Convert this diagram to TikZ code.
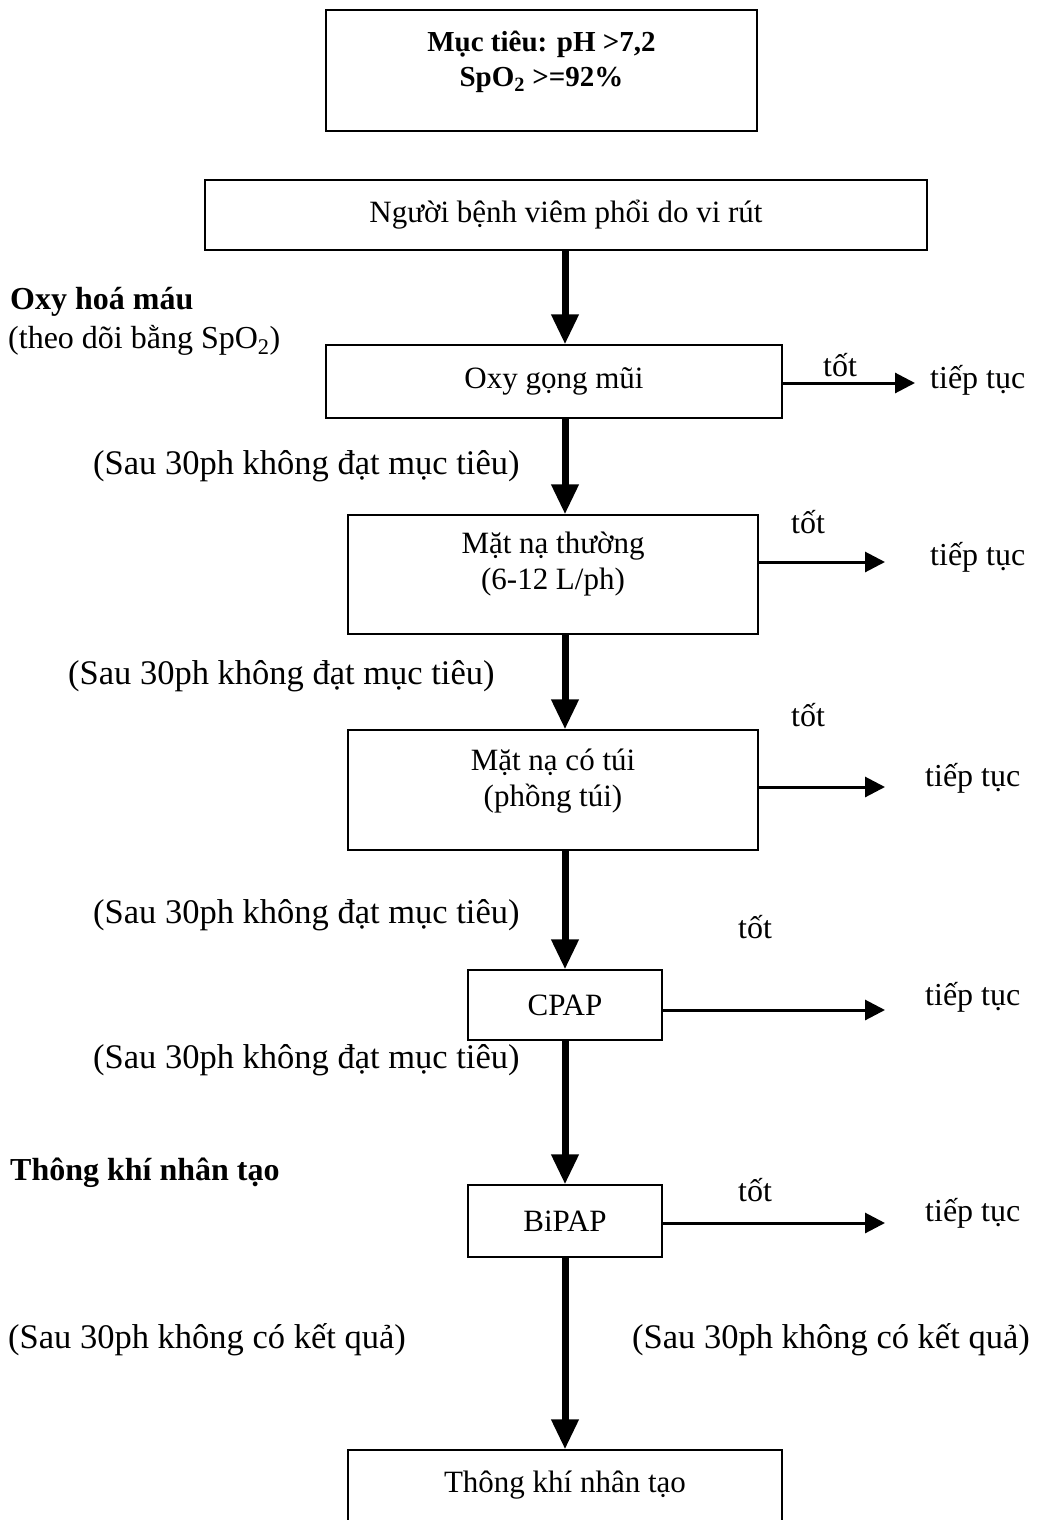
\documentclass[tikz,border=0pt]{standalone}
\usepackage{fontspec}
\setmainfont{Liberation Serif}
\usetikzlibrary{arrows.meta}
\newcommand{\lowpad}[1]{\rule[-#1]{0pt}{#1}}
\begin{document}
\begin{tikzpicture}[x=1pt,y=-1pt,
  box/.style={draw, line width=1.3pt, rectangle, inner sep=0pt, align=center,
    font=\fontsize{31}{36}\selectfont},
  lbl/.style={inner sep=0pt, font=\fontsize{34.5}{40}\selectfont},
  side/.style={inner sep=0pt, font=\fontsize{32}{38}\selectfont},
  bside/.style={inner sep=0pt, font=\fontsize{32}{38}\selectfont\bfseries},
  thickarrow/.style={line width=7pt, -{Triangle[length=30pt,width=26pt]}},
  thinarrow/.style={line width=3pt, -{Triangle[length=20pt,width=20pt]}}]
\useasboundingbox (0,0) rectangle (1037,1520);
\clip (0,0) rectangle (1037,1520);
\coordinate (ax) at (565,0);

\node[box, minimum width=431, minimum height=121,
  font=\fontsize{29}{35}\selectfont\bfseries] (b1) at (541.5,70.5)
  {Mục tiêu: pH >7,2\\SpO\textsubscript{2} >=92\%\lowpad{23pt}};
\node[box, minimum width=722, minimum height=70] (b2) at (566,215) {Người bệnh viêm phổi do vi rút};
\node[box, minimum width=456, minimum height=73] (b3) at (554,381.5) {Oxy gọng mũi};
\node[box, minimum width=410, minimum height=119] (b4) at (553,574.5) {Mặt nạ thường\\(6-12 L/ph)\lowpad{27pt}};
\node[box, minimum width=410, minimum height=120] (b5) at (553,790) {Mặt nạ có túi\\(phồng túi)\lowpad{25pt}};
\node[box, minimum width=194, minimum height=70] (b6) at (565,1005) {CPAP};
\node[box, minimum width=194, minimum height=72] (b7) at (565,1221) {BiPAP};
\node[box, minimum width=434, minimum height=90, text height=22pt, text depth=28pt] (b8) at (565,1495) {Thông khí nhân tạo};

% left labels
\node[bside, anchor=west] (l1) at (10,302) {Oxy hoá máu};
\node[side, anchor=west] (l2) at (8,340) {(theo dõi bằng SpO\textsubscript{2})};
\node[lbl, anchor=west] (s1) at (93,466) {(Sau 30ph không đạt mục tiêu)};
\node[lbl, anchor=west] (s2) at (68,676) {(Sau 30ph không đạt mục tiêu)};
\node[lbl, anchor=west] (s3) at (93,915) {(Sau 30ph không đạt mục tiêu)};
\node[lbl, anchor=west] (s4) at (93,1060) {(Sau 30ph không đạt mục tiêu)};
\node[bside, anchor=west] (l3) at (10,1173) {Thông khí nhân tạo};
\node[lbl, anchor=west] (k1) at (8,1340) {(Sau 30ph không có kết quả)};
\node[lbl, anchor=east] (k2) at (1030,1340) {(Sau 30ph không có kết quả)};

% tốt / tiếp tục
\node[side] (t1) at (840,365) {tốt};
\node[side] (t2) at (808,522) {tốt};
\node[side] (t3) at (808,715) {tốt};
\node[side] (t4) at (755,927) {tốt};
\node[side] (t5) at (755,1190) {tốt};
\node[side, anchor=west] (c1) at (930,380) {tiếp tục};
\node[side, anchor=west] (c2) at (930,557) {tiếp tục};
\node[side, anchor=west] (c3) at (925,778) {tiếp tục};
\node[side, anchor=west] (c4) at (925,997) {tiếp tục};
\node[side, anchor=west] (c5) at (925,1213) {tiếp tục};

\coordinate (e1) at (915,383);
\coordinate (e2) at (885,562);
\coordinate (e3) at (885,787);
\coordinate (e4) at (885,1010);
\coordinate (e5) at (885,1223);

% thick arrows
\draw[thickarrow] (b2.south -| ax) -- (b3.north -| ax);
\draw[thickarrow] (b3.south -| ax) -- (b4.north -| ax);
\draw[thickarrow] (b4.south -| ax) -- (b5.north -| ax);
\draw[thickarrow] (b5.south -| ax) -- (b6.north -| ax);
\draw[thickarrow] (b6.south -| ax) -- (b7.north -| ax);
\draw[thickarrow] (b7.south -| ax) -- (b8.north -| ax);

% thin arrows
\draw[thinarrow] (e1 -| b3.east) -- (e1);
\draw[thinarrow] (e2 -| b4.east) -- (e2);
\draw[thinarrow] (e3 -| b5.east) -- (e3);
\draw[thinarrow] (e4 -| b6.east) -- (e4);
\draw[thinarrow] (e5 -| b7.east) -- (e5);
\end{tikzpicture}
\end{document}
